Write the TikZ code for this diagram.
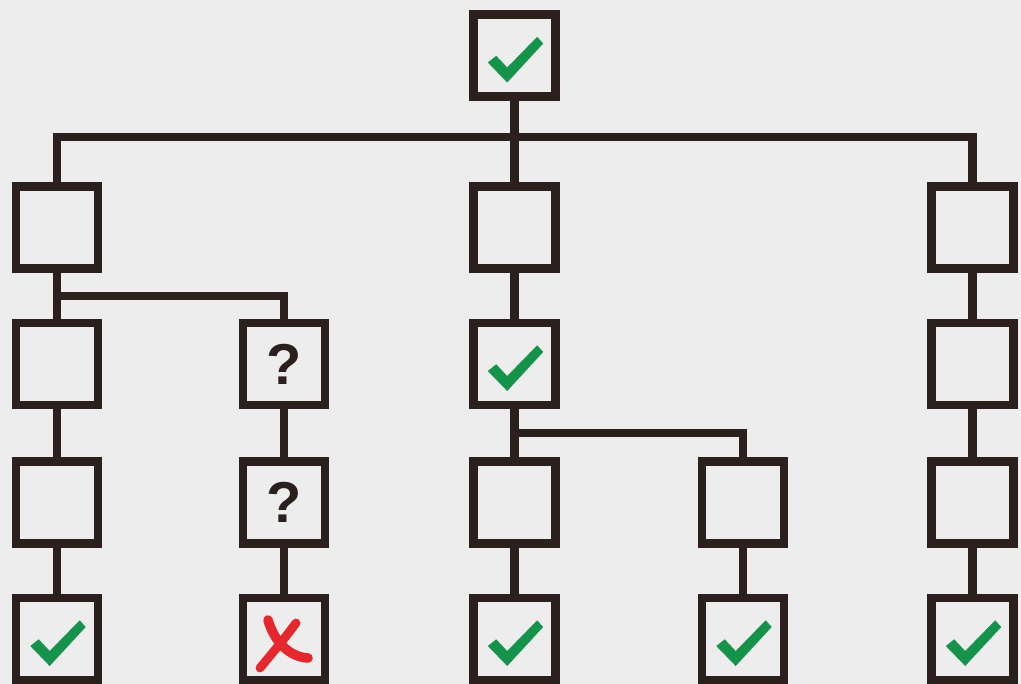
\documentclass[tikz,border=0pt]{standalone}
\usepackage{fontspec}
\setsansfont{Liberation Sans}
\definecolor{ink}{HTML}{2B201D}
\definecolor{okgreen}{HTML}{15934B}
\definecolor{nored}{HTML}{E4282E}
\definecolor{paper}{HTML}{EDEDED}
\tikzset{
  person/.style={draw=ink,line width=0.2125cm,minimum size=2.04cm,inner sep=0pt},
  wire/.style={draw=ink,line width=0.2125cm},
  ask/.style={person,font=\sffamily\bfseries\fontsize{41}{41}\selectfont,text=ink},
}
\newcommand{\tick}[1]{\fill[okgreen,shift={(#1)}] (-26.7,7) -- (-18.3,0.3) -- (-7.3,12) -- (22.7,-18.7) -- (28.7,-12) -- (-7.3,27) -- cycle;}
\begin{document}
\begin{tikzpicture}[x=0.025cm,y=-0.025cm]
  \fill[paper] (0,0) rectangle (1021,684);
  \useasboundingbox (0,0) rectangle (1021,684);

  \node[person] (root) at (514.5,55.5) {};

  \node[person] (l2) at (57,227.5) {};
  \node[person] (m2) at (514.5,227.5) {};
  \node[person] (r2) at (972.5,227.5) {};

  \node[person] (l3) at (57,364) {};
  \node[ask] (q3) at (284,364) {?};
  \node[person] (m3) at (514.5,364) {};
  \node[person] (r3) at (972.5,364) {};

  \node[person] (l4) at (57,502.5) {};
  \node[ask] (q4) at (284,502.5) {?};
  \node[person] (m4) at (514.5,502.5) {};
  \node[person] (n4) at (743,502.5) {};
  \node[person] (r4) at (972.5,502.5) {};

  \node[person] (l5) at (57,639) {};
  \node[person] (x5) at (284,639) {};
  \node[person] (m5) at (514.5,639) {};
  \node[person] (n5) at (743,639) {};
  \node[person] (r5) at (972.5,639) {};

  \coordinate (j1) at (514.5,137);
  \coordinate (j2) at (57,296);
  \coordinate (j3) at (514.5,433);

  % lines
  \draw[wire] (root) -- (m2);
  \draw[wire] (l2.north) |- (j1) -| (r2.north);
  \draw[wire] (l2) -- (l3);
  \draw[wire] (j2) -| (q3.north);
  \draw[wire] (m2) -- (m3);
  \draw[wire] (r2) -- (r3);
  \draw[wire] (l3) -- (l4);
  \draw[wire] (q3) -- (q4);
  \draw[wire] (m3) -- (m4);
  \draw[wire] (j3) -| (n4.north);
  \draw[wire] (r3) -- (r4);
  \draw[wire] (l4) -- (l5);
  \draw[wire] (q4) -- (x5);
  \draw[wire] (m4) -- (m5);
  \draw[wire] (n4) -- (n5);
  \draw[wire] (r4) -- (r5);

  % marks
  \tick{root}
  \tick{m3}
  \tick{l5}
  \tick{m5}
  \tick{n5}
  \tick{r5}
  \draw[nored,line width=0.24cm,line cap=round,shift={(x5)}] (-16,-19) .. controls (-10,2) and (5,18) .. (24,19);
  \draw[nored,line width=0.22cm,line cap=round,shift={(x5)}] (12,-16) .. controls (0,0) .. (-24,29);
\end{tikzpicture}
\end{document}
